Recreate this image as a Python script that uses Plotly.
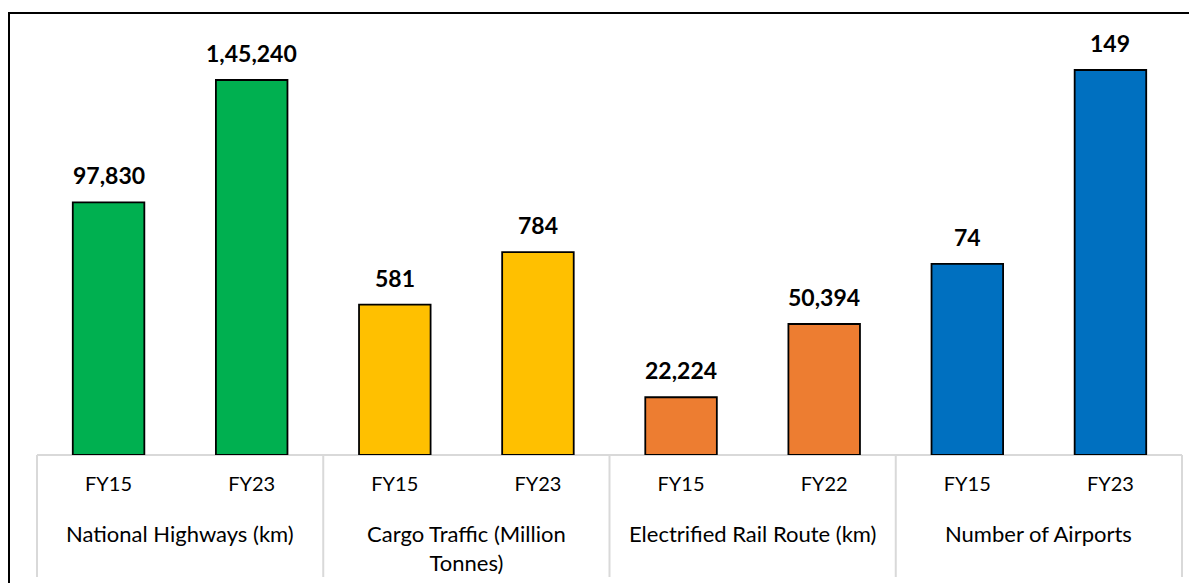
import plotly.graph_objects as go

groups = ["National Highways (km)", "Cargo Traffic (Million<br>Tonnes)",
          "Electrified Rail Route (km)", "Number of Airports"]
periods = [["FY15", "FY23"], ["FY15", "FY23"], ["FY15", "FY22"], ["FY15", "FY23"]]
values = [[97830, 145240], [581, 784], [22224, 50394], [74, 149]]
colors = ["#00B050", "#FFC000", "#ED7D31", "#0070C0"]
# per-group axis maxima (each group is on its own scale)
yr_max = [160730, 1603, 159650, 160.6]


def indian(n):
    s = str(int(n))
    if len(s) <= 3:
        return s
    last3 = s[-3:]
    rest = s[:-3]
    parts = []
    while len(rest) > 2:
        parts.insert(0, rest[-2:])
        rest = rest[:-2]
    if rest:
        parts.insert(0, rest)
    return ",".join(parts + [last3])


FONT = "Lato"
OFF = 8  # page body margin of the html
W, H = 1197 - OFF, 583 - OFF
L, T = 37 - OFF, 40 - OFF
R, B = 15, 128
pw, ph = W - L - R, H - T - B

fig = go.Figure()
annotations = []
for i in range(4):
    xa = "x" if i == 0 else f"x{i+1}"
    ya = "y" if i == 0 else f"y{i+1}"
    fig.add_trace(go.Bar(
        x=periods[i], y=values[i], xaxis=xa, yaxis=ya,
        marker=dict(color=colors[i], line=dict(color="#000000", width=1.8)),
        width=0.5, showlegend=False, hoverinfo="x+y",
    ))
    for p, v in zip(periods[i], values[i]):
        annotations.append(dict(
            x=p, y=v, xref=xa, yref=ya, text=f"<b>{indian(v)}</b>",
            showarrow=False, yanchor="middle", yshift=27,
            font=dict(family=FONT, size=23, color="#000000"),
        ))
    d0, d1 = i / 4, (i + 1) / 4
    annotations.append(dict(
        x=(d0 + d1) / 2, y=0, xref="paper", yref="paper", text=groups[i],
        showarrow=False, xanchor="center", yanchor="top", yshift=-63,
        font=dict(family=FONT, size=22, color="#000000"),
    ))
    xkey = "xaxis" if i == 0 else f"xaxis{i+1}"
    ykey = "yaxis" if i == 0 else f"yaxis{i+1}"
    fig.layout[xkey] = dict(
        domain=[d0, d1], anchor=ya, type="category",
        showline=False, showgrid=False, zeroline=False, ticks="",
        tickfont=dict(family=FONT, size=20, color="#000000"),
        ticklabelstandoff=15, fixedrange=True,
    )
    fig.layout[ykey] = dict(
        anchor=xa, range=[0, yr_max[i]], visible=False, fixedrange=True,
    )

shapes = []
grey = "#D9D9D9"
shapes.append(dict(type="line", xref="paper", yref="paper", x0=0, x1=1,
                   y0=0, y1=0, line=dict(color=grey, width=2), layer="below"))
y_bot = -(577 - 455) / ph
for k in range(5):
    shapes.append(dict(type="line", xref="paper", yref="paper", x0=k / 4, x1=k / 4,
                       y0=0, y1=y_bot, line=dict(color=grey, width=2), layer="below"))
# outer border (page coords: left 8, top 13)
bx0 = (8 - 37 + 1) / pw
bx1 = (1200 - 37) / pw
by1 = (455 - 13) / ph
by0 = -((620 - 455) / ph)
shapes.append(dict(type="rect", xref="paper", yref="paper", x0=bx0, x1=bx1,
                   y0=by0, y1=by1, line=dict(color="#000000", width=2),
                   fillcolor="rgba(0,0,0,0)", layer="below"))

fig.update_layout(
    width=W, height=H, margin=dict(l=L, r=R, t=T, b=B),
    paper_bgcolor="#FFFFFF", plot_bgcolor="#FFFFFF",
    annotations=annotations, shapes=shapes, bargap=0.5,
    font=dict(family=FONT, color="#000000"),
)

fig.write_html("out.html")
